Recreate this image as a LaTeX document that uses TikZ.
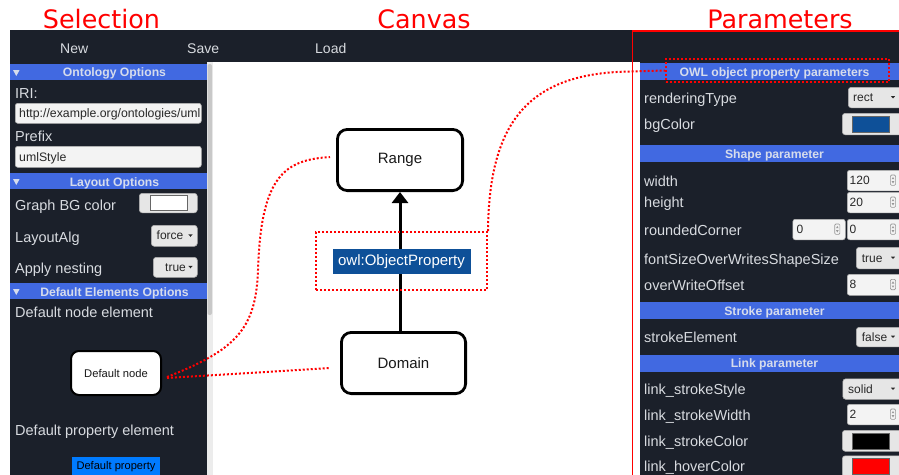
\documentclass[tikz,border=0pt]{standalone}
\usepackage{fontspec}
\setmainfont{Liberation Sans}
\newfontfamily\titlefont{DejaVu Sans}
\usetikzlibrary{arrows.meta}
\definecolor{dark}{RGB}{27,32,42}
\definecolor{hdr}{RGB}{65,105,225}
\definecolor{ptxt}{RGB}{216,219,224}
\definecolor{htxt}{RGB}{214,220,236}
\definecolor{owlblue}{RGB}{14,80,152}
\definecolor{propblue}{RGB}{0,123,255}
\definecolor{btnc}{RGB}{230,230,230}
\definecolor{btnline}{RGB}{175,175,175}
\definecolor{fieldc}{RGB}{243,243,243}
\definecolor{fieldline}{RGB}{180,180,180}
\definecolor{btntext}{RGB}{40,40,40}
\definecolor{nodetext}{RGB}{25,25,25}
\definecolor{scrolltrack}{RGB}{236,236,236}
\definecolor{scrollthumb}{RGB}{200,200,200}
\definecolor{spincol}{RGB}{150,150,150}
\tikzset{
  hdrbar/.style={fill=hdr, inner sep=0pt, minimum height=16.5pt, anchor=north west},
  hdrtxt/.style={text=htxt, font=\fontsize{12.2}{14}\selectfont\bfseries, anchor=base, inner sep=0pt},
  lbl/.style={text=ptxt, font=\fontsize{14.5}{17}\selectfont, anchor=base west, inner sep=0pt},
  menutxt/.style={text=ptxt, font=\fontsize{14}{16}\selectfont, anchor=base west, inner sep=0pt},
  titletxt/.style={text=red, font=\titlefont\fontsize{25.4}{30}\selectfont, anchor=base, inner sep=0pt},
  fieldbox/.style={fill=fieldc, draw=fieldline, line width=0.6pt, rounded corners=2.5pt, inner sep=0pt, anchor=north west},
  btnbox/.style={fill=btnc, draw=btnline, line width=0.6pt, rounded corners=3pt, inner sep=0pt, anchor=north west},
  btntxt/.style={text=btntext, font=\fontsize{12}{14}\selectfont, anchor=base west, inner sep=0pt},
  fldtxt/.style={text=btntext, font=\fontsize{12.3}{14}\selectfont, anchor=base west, inner sep=0pt},
  swatch/.style={draw=black!60, line width=0.5pt, inner sep=0pt, anchor=north west},
  cnode/.style={draw=black, line width=2.8pt, rounded corners=10pt, fill=white, text=nodetext, font=\fontsize{15}{18}\selectfont, inner sep=0pt},
  seldot/.style={draw=red, line width=2pt, dash pattern=on 2pt off 2pt},
  dd/.pic={\fill[btntext] (-2.2,-1.2) -- (2.2,-1.2) -- (0,1.3) -- cycle;},
  spin/.pic={\draw[spincol, line width=0.6pt, rounded corners=1.2pt] (-2.6,-5.2) rectangle (2.6,5.2);
             \fill[spincol] (-1.3,-1) -- (1.3,-1) -- (0,-3.2) -- cycle;
             \fill[spincol] (-1.3,1) -- (1.3,1) -- (0,3.2) -- cycle;},
  hdrtri/.pic={\fill[htxt] (-3.3,-3) -- (3.3,-3) -- (0,3) -- cycle;},
}
\begin{document}
\begin{tikzpicture}[x=1pt,y=-1pt]
\useasboundingbox (0,0) rectangle (899,474);
\clip (0,0) rectangle (899,474);
\fill[white] (0,0) rectangle (899,474);

% ---------- titles ----------
\node[titletxt] (tSel) at (101.5,28) {Selection};
\node[titletxt] (tCan) at (424,28) {Canvas};
\node[titletxt] (tPar) at (780,28) {Parameters};

% ---------- top bar and panels ----------
\fill[dark] (10,30) rectangle (905,62);
\fill[dark] (10,62) rectangle (207,480);
\fill[dark] (640,62) rectangle (905,480);
\fill[scrolltrack] (207,62) rectangle (212.5,480);
\fill[scrollthumb, rounded corners=2pt] (207.5,64) rectangle (212,315);

\node[menutxt] (mNew) at (60,53.3) {New};
\node[menutxt] (mSave) at (187,53.3) {Save};
\node[menutxt] (mLoad) at (315,53.3) {Load};

% ---------- left panel ----------
\node[hdrbar, minimum width=197pt, minimum height=16pt] (hOnt) at (10,64) {};
\pic at (16.3,73) {hdrtri};
\node[hdrtxt] (tOnt) at (114.5,76) {Ontology Options};

\node[lbl] (lIRI) at (15,98.7) {IRI:};
\node[fieldbox, minimum width=186pt, minimum height=20pt] (fIRI) at (15,103) {};
\begin{scope}
  \clip (15.5,103.5) rectangle (200.5,122.5);
  \node[fldtxt] (vIRI) at (19,117.5) {http://example.org/ontologies/uml};
\end{scope}
\node[lbl] (lPre) at (15,141.7) {Prefix};
\node[fieldbox, minimum width=186pt, minimum height=21pt] (fPre) at (15,146) {};
\node[fldtxt] (vPre) at (19,161) {umlStyle};

\node[hdrbar, minimum width=197pt, minimum height=16pt] (hLay) at (10,173) {};
\pic at (16.3,182) {hdrtri};
\node[hdrtxt] (tLay) at (114.5,186) {Layout Options};

\node[lbl] (lBG) at (15,210) {Graph BG color};
\node[btnbox, minimum width=58pt, minimum height=19.5pt] (bBG) at (139,193) {};
\node[swatch, fill=white, minimum width=37pt, minimum height=15pt] (sBG) at (149.5,195.2) {};

\node[lbl] (lAlg) at (15,242.7) {LayoutAlg};
\node[btnbox, minimum width=46pt, minimum height=21pt] (bAlg) at (151,225) {};
\node[btntxt] (vAlg) at (156.5,239.8) {force};
\pic at (190.5,235.5) {dd};

\node[lbl] (lNest) at (15,273) {Apply nesting};
\node[btnbox, minimum width=44pt, minimum height=20pt] (bNest) at (153,257) {};
\node[btntxt] (vNest) at (165,271.3) {true};
\pic at (190.5,267) {dd};

\node[hdrbar, minimum width=197pt, minimum height=16pt] (hDef) at (10,283) {};
\pic at (16.3,292) {hdrtri};
\node[hdrtxt] (tDef) at (114.5,296) {Default Elements Options};

\node[lbl] (lDefN) at (15,317) {Default node element};
\node[cnode, line width=2pt, rounded corners=8pt, minimum width=90pt, minimum height=44pt,
      font=\fontsize{11.2}{13}\selectfont] (DefNode) at (116,373) {Default node};

\node[lbl] (lDefP) at (15,435) {Default property element};
\node[fill=propblue, text=black, font=\fontsize{11.1}{13}\selectfont, minimum width=88pt,
      minimum height=18pt, inner sep=0pt, anchor=north] (DefProp) at (116,457) {Default property};

% ---------- canvas ----------
\node[cnode, minimum width=125.2pt, minimum height=61.2pt] (Range) at (400,160) {Range};
\node[cnode, minimum width=124.2pt, minimum height=61.2pt] (Domain) at (403.5,363) {Domain};
\draw[line width=3pt, -{Triangle[width=16pt,length=11pt]}] (Range.south |- Domain.north) -- (Range.south);
\node[fill=owlblue, text=white, font=\fontsize{15}{18}\selectfont, minimum width=138pt,
      minimum height=25pt, inner sep=0pt] (Prop) at (401.5,261.5) {owl:ObjectProperty};
\node[seldot, minimum width=171pt, minimum height=58pt, inner sep=0pt] (PropSel) at (401.5,261) {};

% ---------- right panel ----------
\fill[white] (633,62) rectangle (640,480);
\draw[red, line width=1.5pt] (632.5,480) -- (632.5,31) -- (905,31);

\node[hdrbar, minimum width=270pt, minimum height=17pt] (hOWL) at (640,63) {};
\node[hdrtxt] (tOWL) at (774.5,76) {OWL object property parameters};
\node[seldot, minimum width=223pt, minimum height=23pt, inner sep=0pt] (ParSel) at (777.5,70.5) {};

\node[lbl] (lRT) at (644,103.3) {renderingType};
\node[btnbox, minimum width=56pt, minimum height=20.5pt] (bRT) at (848,87) {};
\node[btntxt] (vRT) at (853,101.5) {rect};
\pic at (893,97.2) {dd};

\node[lbl] (lBGc) at (644,129.3) {bgColor};
\node[btnbox, minimum width=62pt, minimum height=21.5pt] (bBGc) at (842,113) {};
\node[swatch, fill=owlblue, minimum width=37pt, minimum height=16.5pt] (sBGc) at (852,115.5) {};

\node[hdrbar, minimum width=270pt, minimum height=17pt] (hShape) at (640,145) {};
\node[hdrtxt] (tShape) at (774.5,158.5) {Shape parameter};

\node[lbl] (lW) at (644,186.7) {width};
\node[fieldbox, minimum width=56pt, minimum height=20.5pt] (fW) at (847,170) {};
\node[btntxt] (vW) at (849.5,184.5) {120};
\pic at (893,180.2) {spin};

\node[lbl] (lH) at (644,207.5) {height};
\node[fieldbox, minimum width=56pt, minimum height=20.5pt] (fH) at (847,192) {};
\node[btntxt] (vH) at (849.5,206.5) {20};
\pic at (893,202.2) {spin};

\node[lbl] (lRC) at (644,235) {roundedCorner};
\node[fieldbox, minimum width=52.5pt, minimum height=20.5pt] (fRC1) at (792.5,219) {};
\node[btntxt] (vRC1) at (796.5,233.5) {0};
\pic at (837.3,229.2) {spin};
\node[fieldbox, minimum width=56pt, minimum height=20.5pt] (fRC2) at (847,219) {};
\node[btntxt] (vRC2) at (849.5,233.5) {0};
\pic at (893,229.2) {spin};

\node[lbl] (lFS) at (644,264) {fontSizeOverWritesShapeSize};
\node[btnbox, minimum width=48pt, minimum height=21.5pt] (bFS) at (856,247) {};
\node[btntxt] (vFS) at (861.7,262) {true};
\pic at (893,257.7) {dd};

\node[lbl] (lOW) at (644,290) {overWriteOffset};
\node[fieldbox, minimum width=56pt, minimum height=21pt] (fOW) at (847,274) {};
\node[btntxt] (vOW) at (849.5,288.8) {8};
\pic at (893,284.5) {spin};

\node[hdrbar, minimum width=270pt, minimum height=17pt] (hStroke) at (640,302) {};
\node[hdrtxt] (tStroke) at (774.5,315) {Stroke parameter};

\node[lbl] (lSE) at (644,342.7) {strokeElement};
\node[btnbox, minimum width=48pt, minimum height=19.5pt] (bSE) at (856,327) {};
\node[btntxt] (vSE) at (861.7,341) {false};
\pic at (893,336.7) {dd};

\node[hdrbar, minimum width=270pt, minimum height=17pt] (hLink) at (640,355) {};
\node[hdrtxt] (tLink) at (774.5,367.5) {Link parameter};

\node[lbl] (lSS) at (644,394) {link\_strokeStyle};
\node[btnbox, minimum width=62pt, minimum height=20.5pt] (bSS) at (842.5,378.5) {};
\node[btntxt] (vSS) at (848,393) {solid};
\pic at (893,388.7) {dd};

\node[lbl] (lSW) at (644,420) {link\_strokeWidth};
\node[fieldbox, minimum width=56pt, minimum height=20.5pt] (fSW) at (847,404) {};
\node[btntxt] (vSW) at (849.5,418.5) {2};
\pic at (893,414.2) {spin};

\node[lbl] (lSC) at (644,446) {link\_strokeColor};
\node[btnbox, minimum width=62pt, minimum height=21pt] (bSC) at (842,430) {};
\node[swatch, fill=black, minimum width=37pt, minimum height=16pt] (sSC) at (852,432.5) {};

\node[lbl] (lHC) at (644,471.7) {link\_hoverColor};
\node[btnbox, minimum width=62pt, minimum height=21pt] (bHC) at (842,455.5) {};
\node[swatch, fill=red, minimum width=37pt, minimum height=16pt] (sHC) at (852,458) {};

% ---------- red dotted connectors ----------
\draw[seldot] ([shift={(5,4)}]DefNode.east) .. controls (235,350) and (256,330) .. (258,270)
      .. controls (261,175) and (285,160) .. ([shift={(-6,-3)}]Range.west);
\draw[seldot] ([shift={(5,5)}]DefNode.east) -- ([shift={(-10,5)}]Domain.west);
\draw[seldot] (PropSel.north east) .. controls (489,120) and (530,73) .. (630,71.5) -- (ParSel.west);
\end{tikzpicture}
\end{document}
